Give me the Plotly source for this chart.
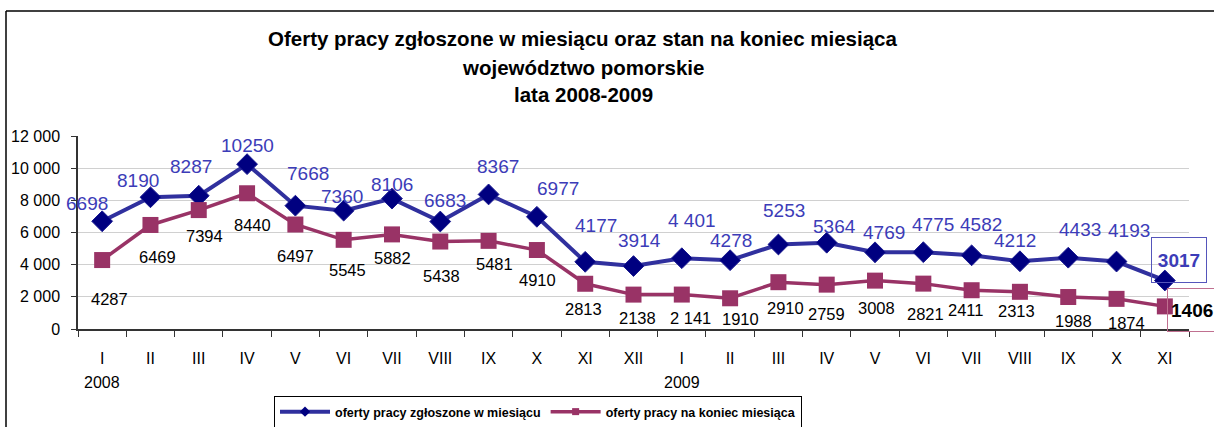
import plotly.graph_objects as go

# ---- data ----
months = ["I", "II", "III", "IV", "V", "VI", "VII", "VIII", "IX", "X", "XI", "XII",
          "I", "II", "III", "IV", "V", "VI", "VII", "VIII", "IX", "X", "XI"]
years = ["2008", "2009"]
year_pos = [0, 12]
offers_month = [6698, 8190, 8287, 10250, 7668, 7360, 8106, 6683, 8367, 6977, 4177, 3914,
                4401, 4278, 5253, 5364, 4769, 4775, 4582, 4212, 4433, 4193, 3017]
offers_end = [4287, 6469, 7394, 8440, 6497, 5545, 5882, 5438, 5481, 4910, 2813, 2138,
              2141, 1910, 2910, 2759, 3008, 2821, 2411, 2313, 1988, 1874, 1406]
labels_month = ["6698", "8190", "8287", "10250", "7668", "7360", "8106", "6683", "8367", "6977",
                "4177", "3914", "4 401", "4278", "5253", "5364", "4769", "4775", "4582", "4212",
                "4433", "4193", "3017"]
labels_end = ["4287", "6469", "7394", "8440", "6497", "5545", "5882", "5438", "5481", "4910",
              "2813", "2138", "2 141", "1910", "2910", "2759", "3008", "2821", "2411", "2313",
              "1988", "1874", "1406"]
ytick_vals = [0, 2000, 4000, 6000, 8000, 10000, 12000]
ytick_text = ["0", "2 000", "4 000", "6 000", "8 000", "10 000", "12 000"]
series_names = ["oferty pracy zgłoszone w miesiącu", "oferty pracy na koniec miesiąca"]
title_lines = ["Oferty pracy zgłoszone w miesiącu oraz stan na koniec miesiąca",
               "województwo pomorskie", "lata 2008-2009"]

# ---- label offsets (pixels) ----
blue_dx = [-15, -12, -8, 0, 13, -2, 0, 5, 9, 21, 11, 6, 10, 1, 6, 8, 9, 10, 9, -5, 12, 12, 14]
blue_dy = [18, 17, 29, 19, 32, 14, 14, 21, 28, 28, 36, 26, 38, 20, 34, 16, 20, 28, 31, 21, 28, 31, 20]
blk_dx = [7, 7, 6, 5, 0, 4, 1, 1, 6, 1, -2, 4, 9, 10, 7, 0, 1, 2, -6, -3, 5, 10]
blk_dy = [39, 32, 26, 32, 31, 30, 24, 34, 23, 30, 25, 23, 23, 21, 26, 29, 27, 30, 20, 19, 24, 24]

W, H = 1214, 427
L, R, T, B = 78, 1189, 136, 329


def px(x):
    return (x - L) / (R - L)


def py(y):
    return (B - y) / (B - T)


BLUE_LINE = "#30309E"
BLUE_MARK = "#000080"
BLUE_TXT = "#3C3CB8"
MAG = "#993366"
FONT = "Liberation Sans, Arial, sans-serif"
NARROW = "Liberation Sans Narrow, Arial Narrow, Liberation Sans, Arial, sans-serif"

x = list(range(len(months)))

fig = go.Figure()
fig.add_trace(go.Scatter(
    x=x, y=offers_month, mode="lines+markers", name=series_names[0], showlegend=False,
    line=dict(color=BLUE_LINE, width=4),
    marker=dict(symbol="diamond", size=16, color=BLUE_MARK, line=dict(color="#1a1a90", width=1)),
))
fig.add_trace(go.Scatter(
    x=x, y=offers_end, mode="lines+markers", name=series_names[1], showlegend=False,
    line=dict(color=MAG, width=3.5),
    marker=dict(symbol="square", size=16, color=MAG),
))
# legend-only entries with the small legend symbols
fig.add_trace(go.Scatter(
    x=[None], y=[None], mode="lines+markers", name=series_names[0],
    line=dict(color=BLUE_LINE, width=4),
    marker=dict(symbol="diamond", size=8, color=BLUE_MARK),
))
fig.add_trace(go.Scatter(
    x=[None], y=[None], mode="lines+markers", name=series_names[1],
    line=dict(color=MAG, width=3.5),
    marker=dict(symbol="square", size=7, color=MAG),
))

ann = []
for i, (v, t) in enumerate(zip(offers_month, labels_month)):
    last = i == len(offers_month) - 1
    a = dict(x=i, y=v, xref="x", yref="y", text=("<b>%s</b>" % t) if last else t,
             showarrow=False, xshift=blue_dx[i], yshift=blue_dy[i],
             font=dict(family=FONT, size=19, color=BLUE_TXT))
    if last:
        a.update(bordercolor="#5555BB", borderwidth=1, borderpad=4, width=46, height=36)
    ann.append(a)
for i, (v, t) in enumerate(zip(offers_end, labels_end)):
    if i < len(blk_dx):
        ann.append(dict(x=i, y=v, xref="x", yref="y", text=t, showarrow=False,
                        xshift=blk_dx[i], yshift=-blk_dy[i],
                        font=dict(family=FONT, size=16.5, color="#000000")))
    else:
        ann.append(dict(x=i, y=v, xref="x", yref="y", text="<b>%s</b>" % t, showarrow=False,
                        xanchor="left", xshift=2, yshift=-4, align="left",
                        width=60, height=36, borderpad=3,
                        bordercolor="#C07090", borderwidth=1,
                        font=dict(family=FONT, size=19, color="#000000")))
for yp, yr in zip(year_pos, years):
    ann.append(dict(x=yp, y=py(382), xref="x", yref="paper", text=yr, showarrow=False,
                    yanchor="middle", font=dict(family=FONT, size=16, color="#000")))
for yc, tl in zip([38, 67, 95], title_lines):
    ann.append(dict(x=px(583), y=py(yc), xref="paper", yref="paper", text="<b>%s</b>" % tl,
                    showarrow=False, yanchor="middle",
                    font=dict(family=NARROW, size=20.5, color="#000")))

shapes = [
    dict(type="line", xref="paper", yref="paper", x0=px(6), x1=px(6), y0=py(11), y1=py(440),
         line=dict(color="#000", width=1.5)),
    dict(type="line", xref="paper", yref="paper", x0=px(6), x1=px(1230), y0=py(11), y1=py(11),
         line=dict(color="#000", width=1.5)),
]

fig.update_layout(
    width=W, height=H,
    margin=dict(l=L, r=W - R, t=T, b=H - B),
    paper_bgcolor="white", plot_bgcolor="white",
    showlegend=True,
    legend=dict(orientation="h", xref="container", yref="container",
                x=274 / W, y=1 - 396 / H, xanchor="left", yanchor="top",
                bordercolor="#000", borderwidth=1, itemwidth=50,
                font=dict(family=NARROW, size=12.5, color="#000", weight="bold")),
    annotations=ann, shapes=shapes,
)
fig.update_xaxes(range=[-0.5, len(months) - 0.5], tickmode="array", tickvals=x, ticktext=months,
                 ticks="", showgrid=False, zeroline=False, automargin=False,
                 showline=True, linecolor="#333", linewidth=1.5,
                 tickfont=dict(family=FONT, size=16, color="#000"), ticklabelstandoff=14,
                 minor=dict(tick0=-0.5, dtick=1, ticks="outside", ticklen=6, tickcolor="#333",
                            showgrid=False))
fig.update_yaxes(range=[0, 12000], tickmode="array", tickvals=ytick_vals, ticktext=ytick_text,
                 ticks="outside", ticklen=5, tickcolor="#333", automargin=False,
                 showgrid=True, gridcolor="#D0D0D0", gridwidth=1, zeroline=False,
                 showline=True, linecolor="#333", linewidth=1.5,
                 tickfont=dict(family=FONT, size=16, color="#000"), ticklabelstandoff=8)

fig.write_html("out.html", config={"displayModeBar": False},
               post_script="document.body.style.margin='0';")
